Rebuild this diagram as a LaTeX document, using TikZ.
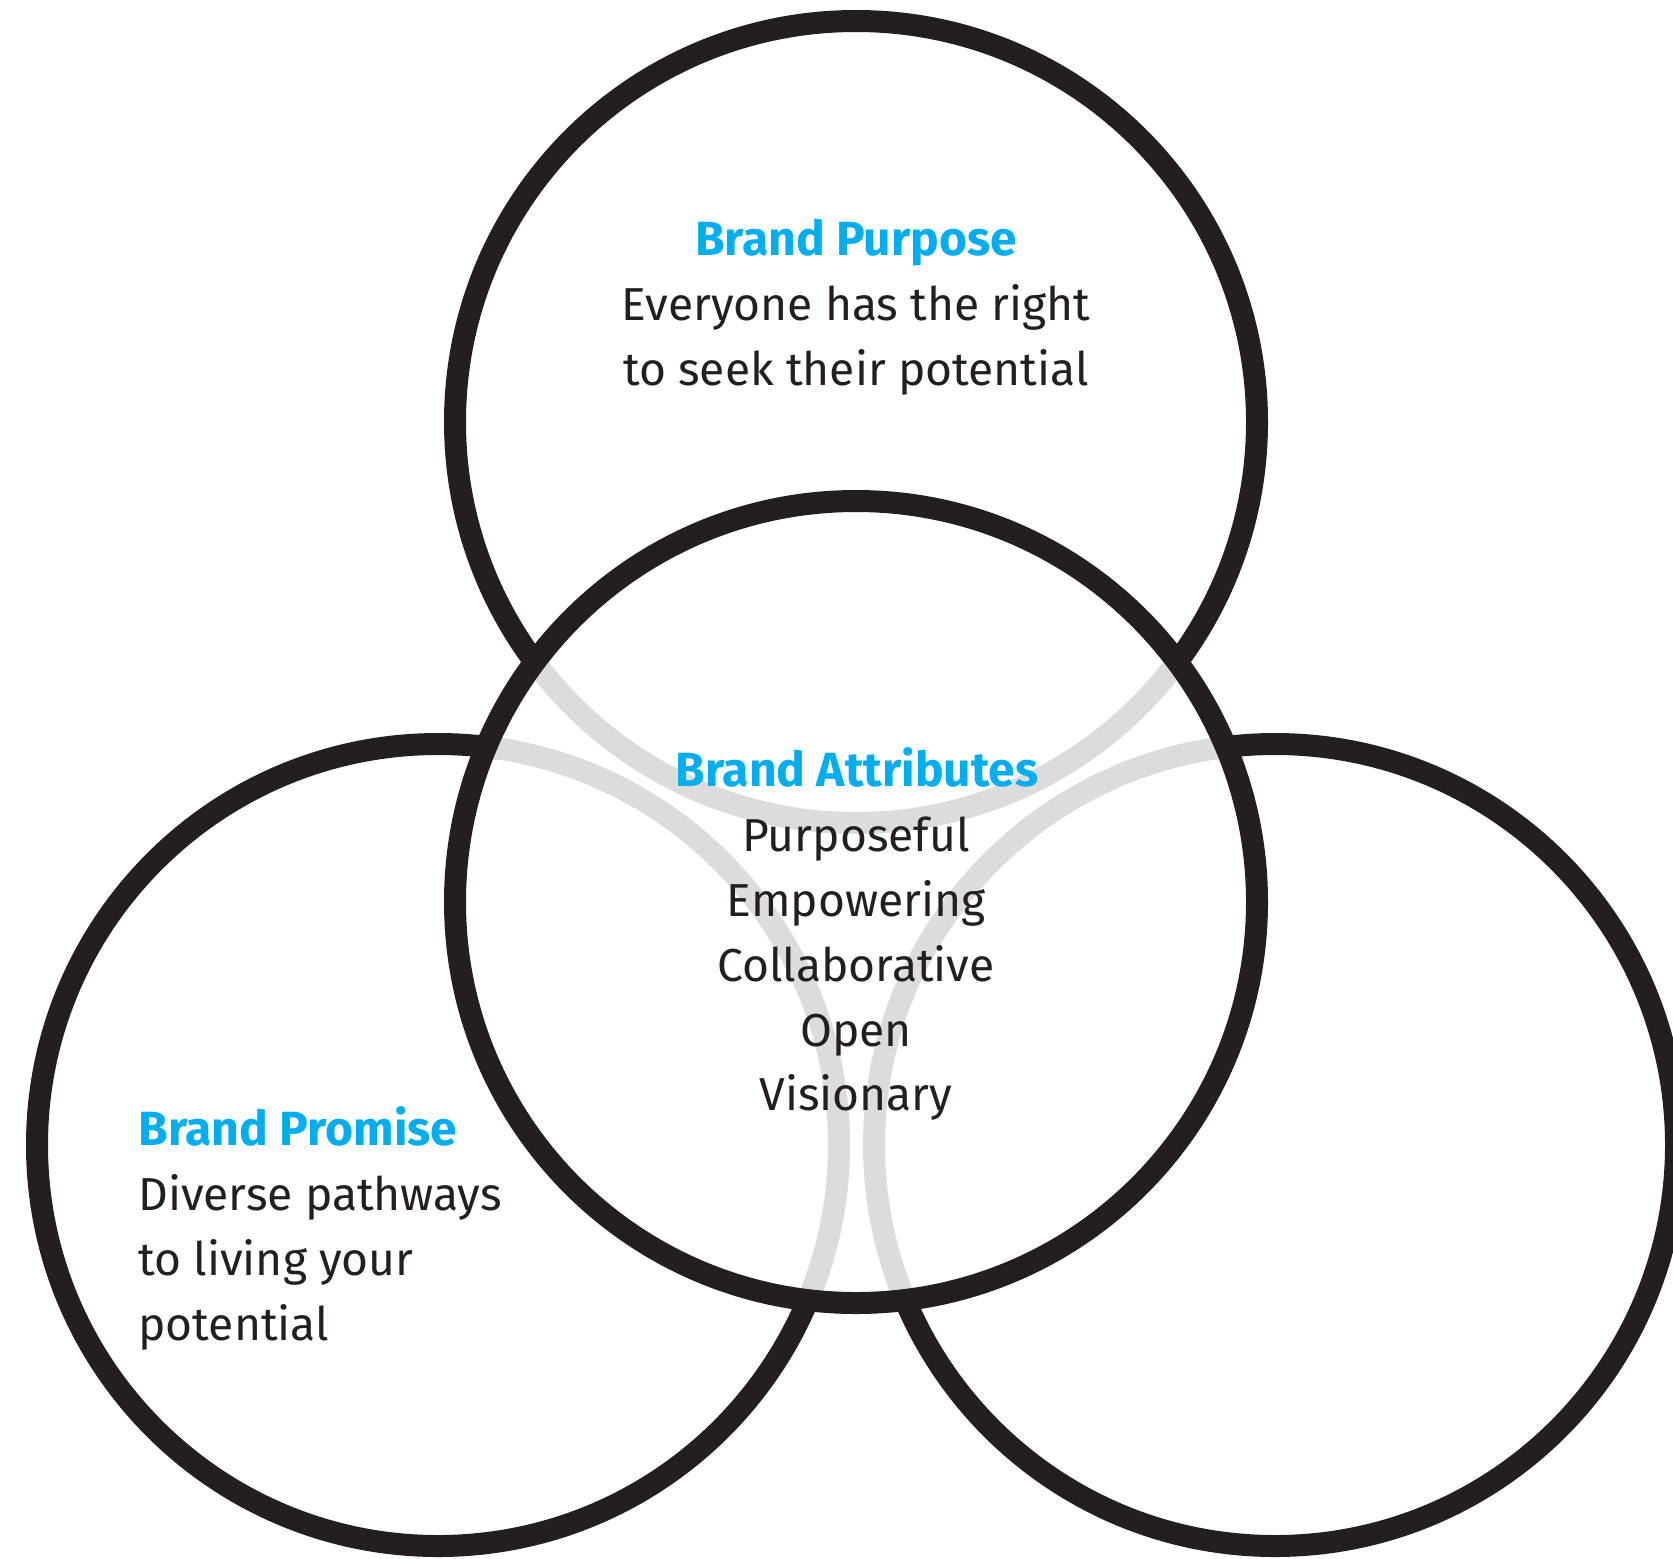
\documentclass[tikz,border=0pt]{standalone}
\usepackage{fontspec}
\setmainfont{Fira Sans}
\definecolor{ringblack}{HTML}{231F20}
\definecolor{ringgray}{HTML}{DCDCDC}
\definecolor{brandblue}{HTML}{00AEEF}
\tikzset{
  ring/.style={draw=ringblack, line width=11pt},
  ghost/.style={draw=ringgray, line width=11pt},
  title/.style={text=brandblue, font=\fontsize{24}{28}\selectfont\bfseries, inner sep=0pt},
  body/.style={text=ringblack, font=\fontsize{23.1}{27}\selectfont, inner sep=0pt},
}
\begin{document}
\begin{tikzpicture}[x=0.5pt, y=-0.5pt]
\useasboundingbox (0,0) rectangle (1673,1558);
\fill[white] (0,0) rectangle (1673,1558);
% centres
\coordinate (ctop) at (856,422);
\coordinate (cmid) at (856,902);
\coordinate (cleft) at (438,1145);
\coordinate (cright) at (1275,1145);
% outer rings
\draw[ring] (ctop) circle (401);
\draw[ring] (cleft) circle (401);
\draw[ring] (cright) circle (401);
% cover inside of the middle ring
\fill[white] (cmid) circle (401);
\begin{scope}
  \clip (cmid) circle (401);
  \draw[ghost] (ctop) circle (401);
  \draw[ghost] (cleft) circle (401);
  \draw[ghost] (cright) circle (401);
\end{scope}
\draw[ring] (cmid) circle (401);
% texts: top
\node[title, anchor=base] (purT) at (856,255) {Brand Purpose};
\node[body, anchor=base] (pur1) at (856,320.7) {Everyone has the right};
\node[body, anchor=base] (pur2) at (856,385.5) {to seek their potential};
% texts: middle
\node[title, anchor=base] (attT) at (857,786) {Brand Attributes};
\node[body, anchor=base] (att1) at (856,851.7) {Purposeful};
\node[body, anchor=base] (att2) at (856,916.5) {Empowering};
\node[body, anchor=base] (att3) at (856,981.3) {Collaborative};
\node[body, anchor=base] (att4) at (856,1046.1) {Open};
\node[body, anchor=base] (att5) at (856,1110.9) {Visionary};
% texts: left
\node[title, anchor=base west] (proT) at (138,1145) {Brand Promise};
\node[body, anchor=base west] (pro1) at (138,1210.5) {Diverse pathways};
\node[body, anchor=base west] (pro2) at (138,1275.3) {to living your};
\node[body, anchor=base west] (pro3) at (138,1340.1) {potential};
\end{tikzpicture}
\end{document}
